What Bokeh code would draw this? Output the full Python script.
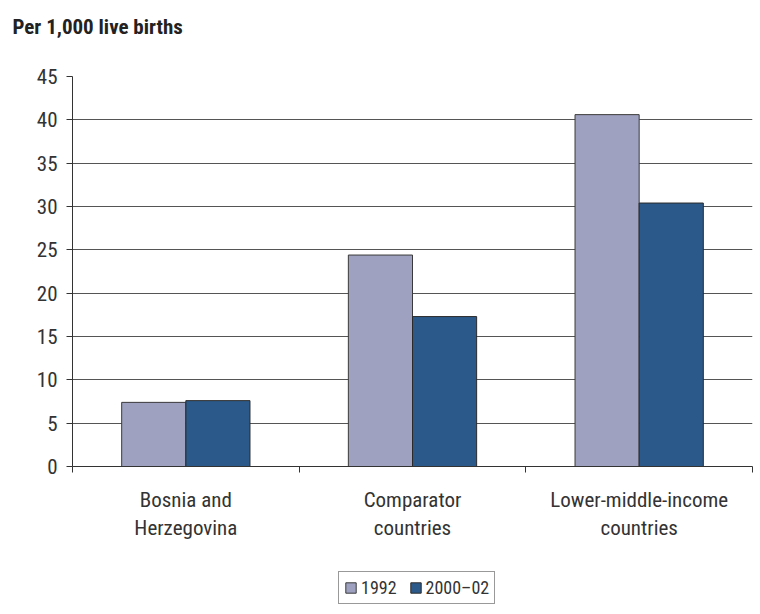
from bokeh.plotting import figure
from bokeh.models import FixedTicker, Range1d, Legend, LegendItem, ColumnDataSource
from bokeh.layouts import column
from bokeh.embed import file_html
from bokeh.resources import INLINE

title_text = "Per 1,000 live births"
categories = ["Bosnia and\nHerzegovina", "Comparator\ncountries", "Lower-middle-income\ncountries"]
series_names = ["1992", "2000\u201302"]
v1992 = [7.4, 24.4, 40.6]
v2000 = [7.6, 17.3, 30.4]
y_ticks = [0, 5, 10, 15, 20, 25, 30, 35, 40, 45]
colors = ["#9EA1BF", "#2B5A8A"]

FONT = "'Roboto Condensed', 'DejaVu Sans Condensed', 'Liberation Sans Narrow', Roboto, sans-serif"

# ---- title strip ----
tf = figure(width=760, height=66, output_backend="svg", toolbar_location=None,
            x_range=Range1d(0, 1), y_range=Range1d(0, 1),
            min_border=0, outline_line_color=None)
tf.axis.visible = False
tf.grid.visible = False
tf.title.text = title_text
tf.title.text_font = FONT
tf.title.text_font_style = "bold"
tf.title.text_font_size = "21px"
tf.title.text_color = "#222222"
tf.title.offset = -60
tf.title.standoff = 28
tf.title.vertical_align = "top"

# ---- main chart ----
p = figure(width=760, output_backend="svg", toolbar_location=None,
           x_range=Range1d(0, len(categories)), y_range=Range1d(0, 45),
           frame_width=680, frame_height=390,
           min_border_left=72, min_border_right=8, min_border_top=10, min_border_bottom=0)
p.outline_line_color = None
p.background_fill_color = "white"

idx = list(range(len(categories)))
w = 0.283
src1 = ColumnDataSource(dict(x=[i + 0.5 - w / 2 for i in idx], top=v1992))
src2 = ColumnDataSource(dict(x=[i + 0.5 + w / 2 for i in idx], top=v2000))
p.vbar(x="x", top="top", width=w, bottom=0, source=src1, fill_color=colors[0], line_color="#3a3a3a", line_width=1)
p.vbar(x="x", top="top", width=w, bottom=0, source=src2, fill_color=colors[1], line_color="#2a2a2a", line_width=1)

# y axis
p.yaxis.ticker = FixedTicker(ticks=y_ticks)
p.yaxis.axis_line_color = "#333333"
p.yaxis.major_tick_line_color = "#333333"
p.yaxis.major_tick_in = 0
p.yaxis.major_tick_out = 6
p.yaxis.minor_tick_line_color = None
p.yaxis.major_label_text_font = FONT
p.yaxis.major_label_text_font_size = "21px"
p.yaxis.major_label_text_color = "#333333"
p.yaxis.major_label_standoff = 9

# x axis
p.xaxis.ticker = FixedTicker(ticks=[i + 0.5 for i in idx], minor_ticks=list(range(len(categories) + 1)))
p.xaxis.major_label_overrides = {i + 0.5: c for i, c in zip(idx, categories)}
p.xaxis.axis_line_color = "#333333"
p.xaxis.major_tick_line_color = None
p.xaxis.minor_tick_line_color = "#333333"
p.xaxis.minor_tick_in = 0
p.xaxis.minor_tick_out = 6
p.xaxis.major_label_text_font = FONT
p.xaxis.major_label_text_font_size = "21px"
p.xaxis.major_label_text_color = "#333333"
p.xaxis.major_label_standoff = 15

p.xgrid.grid_line_color = None
p.ygrid.ticker = FixedTicker(ticks=y_ticks)
p.ygrid.grid_line_color = "#555555"
p.ygrid.grid_line_width = 1

# ---- legend strip (proxy glyphs kept outside its visible range) ----
lg = figure(width=760, height=71, output_backend="svg", toolbar_location=None,
            x_range=Range1d(100, 101), y_range=Range1d(100, 101),
            min_border=0, outline_line_color=None)
lg.axis.visible = False
lg.grid.visible = False
q1 = lg.vbar(x="x", top="top", width=w, bottom=0, source=src1, fill_color=colors[0], line_color="#3a3a3a")
q2 = lg.vbar(x="x", top="top", width=w, bottom=0, source=src2, fill_color=colors[1], line_color="#2a2a2a")
legend = Legend(items=[LegendItem(label=series_names[0], renderers=[q1], index=0),
                       LegendItem(label=series_names[1], renderers=[q2], index=0)],
                orientation="horizontal", location=(266, 10))
legend.label_text_font = FONT
legend.label_text_font_size = "18px"
legend.label_text_color = "#333333"
legend.border_line_color = "#333333"
legend.border_line_width = 1
legend.glyph_width = 13
legend.glyph_height = 13
legend.spacing = 12
legend.padding = 5
legend.label_standoff = 4
legend.margin = 0
lg.add_layout(legend, "center")

layout = column(tf, p, lg, spacing=0)
open("out.html", "w").write(file_html(layout, INLINE))
